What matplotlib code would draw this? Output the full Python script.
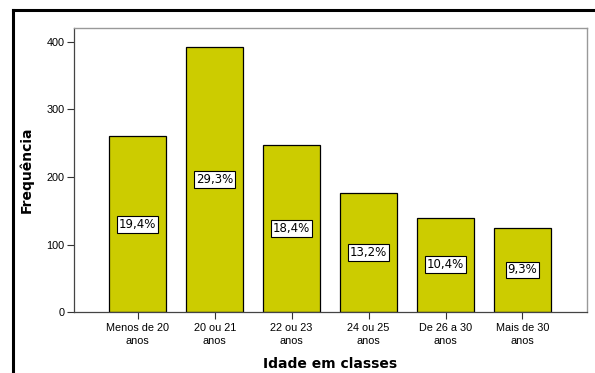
import numpy as np
import matplotlib.pyplot as plt
from matplotlib.lines import Line2D

categorias = ['Menos de 20\nanos', '20 ou 21\nanos', '22 ou 23\nanos',
              '24 ou 25\nanos', 'De 26 a 30\nanos', 'Mais de 30\nanos']
frequencias = [260, 393, 247, 177, 140, 125]
percentuais = ['19,4%', '29,3%', '18,4%', '13,2%', '10,4%', '9,3%']

fig = plt.figure(figsize=(5.95, 3.73), dpi=100)
ax = fig.add_axes([0.1244, 0.1635, 0.8622, 0.7614])

x = np.arange(len(categorias))
ax.bar(x, frequencias, width=0.74, color='#cccc00', edgecolor='black', linewidth=0.9)

for xi, h, p in zip(x, frequencias, percentuais):
    ax.text(xi, h / 2, p, ha='center', va='center', fontsize=8.5, family='DejaVu Sans',
            bbox=dict(boxstyle='square,pad=0.15', facecolor='white', edgecolor='black', linewidth=0.8))

ax.set_xlim(-0.83, 5.84)
ax.set_ylim(0, 420.7)
ax.set_yticks([0, 100, 200, 300, 400])
ax.set_xticks(x)
ax.set_xticklabels(categorias, fontsize=7.8, family='Liberation Sans', linespacing=1.3)
ax.tick_params(axis='y', labelsize=7.8, length=5, width=0.8, color='#333333', pad=2)
ax.tick_params(axis='x', length=5, width=0.8, color='#333333', pad=3)
for lab in ax.get_yticklabels():
    lab.set_family('Liberation Sans')

for s in ['left', 'bottom']:
    ax.spines[s].set_color('#444444')
    ax.spines[s].set_linewidth(0.9)
for s in ['top', 'right']:
    ax.spines[s].set_color('#999999')
    ax.spines[s].set_linewidth(1.0)

ax.set_ylabel('Frequência', fontsize=10, fontweight='bold', labelpad=9)
ax.set_xlabel('Idade em classes', fontsize=10, fontweight='bold', labelpad=8)

# moldura externa (apenas topo e esquerda)
fig.add_artist(Line2D([0.0218, 1.0], [0.9732, 0.9732], color='black', linewidth=2.2, transform=fig.transFigure))
fig.add_artist(Line2D([0.0218, 0.0218], [0.0, 0.9732], color='black', linewidth=2.2, transform=fig.transFigure))

fig.savefig('out.png', dpi=100)
